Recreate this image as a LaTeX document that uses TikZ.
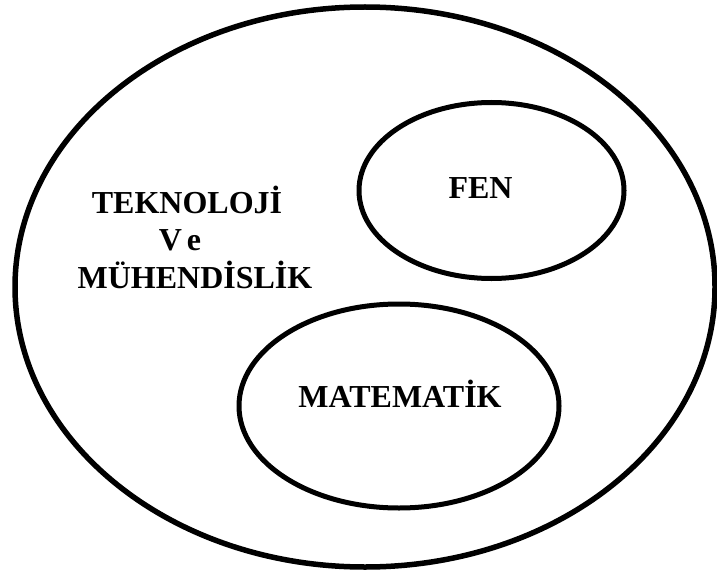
\documentclass[tikz,border=0pt]{standalone}
\usepackage{fontspec}
\setmainfont{Liberation Serif}
\usetikzlibrary{shapes.geometric}
\begin{document}
\begin{tikzpicture}[x=1pt,y=-1pt,
  set/.style={draw=black,line width=5.5pt,ellipse,inner sep=0pt,minimum width=#1},
  lbl/.style={anchor=base,inner sep=0pt,font=\bfseries\fontsize{32}{38}\selectfont}]
\useasboundingbox (0,0) rectangle (717,575);
\fill[white] (0,0) rectangle (717,575);
\node[draw=black,line width=5.5pt,ellipse,inner sep=0pt,minimum width=700pt,minimum height=560pt] (outer) at (365,287) {};
\node[draw=black,line width=5pt,ellipse,inner sep=0pt,minimum width=265pt,minimum height=176pt] (fen) at (491.5,190.5) {};
\node[draw=black,line width=5pt,ellipse,inner sep=0pt,minimum width=320pt,minimum height=204pt] (mat) at (399,406) {};
\node[lbl] (t1) at (187,213) {TEKNOLOJİ};
\node[lbl] (t2) at (180,250) {V\kern5pt e};
\node[lbl] (t3) at (195,288) {MÜHENDİSLİK};
\node[lbl] (tfen) at (480.5,198) {FEN};
\node[lbl] (tmat) at (400,407) {MATEMATİK};
\end{tikzpicture}
\end{document}
